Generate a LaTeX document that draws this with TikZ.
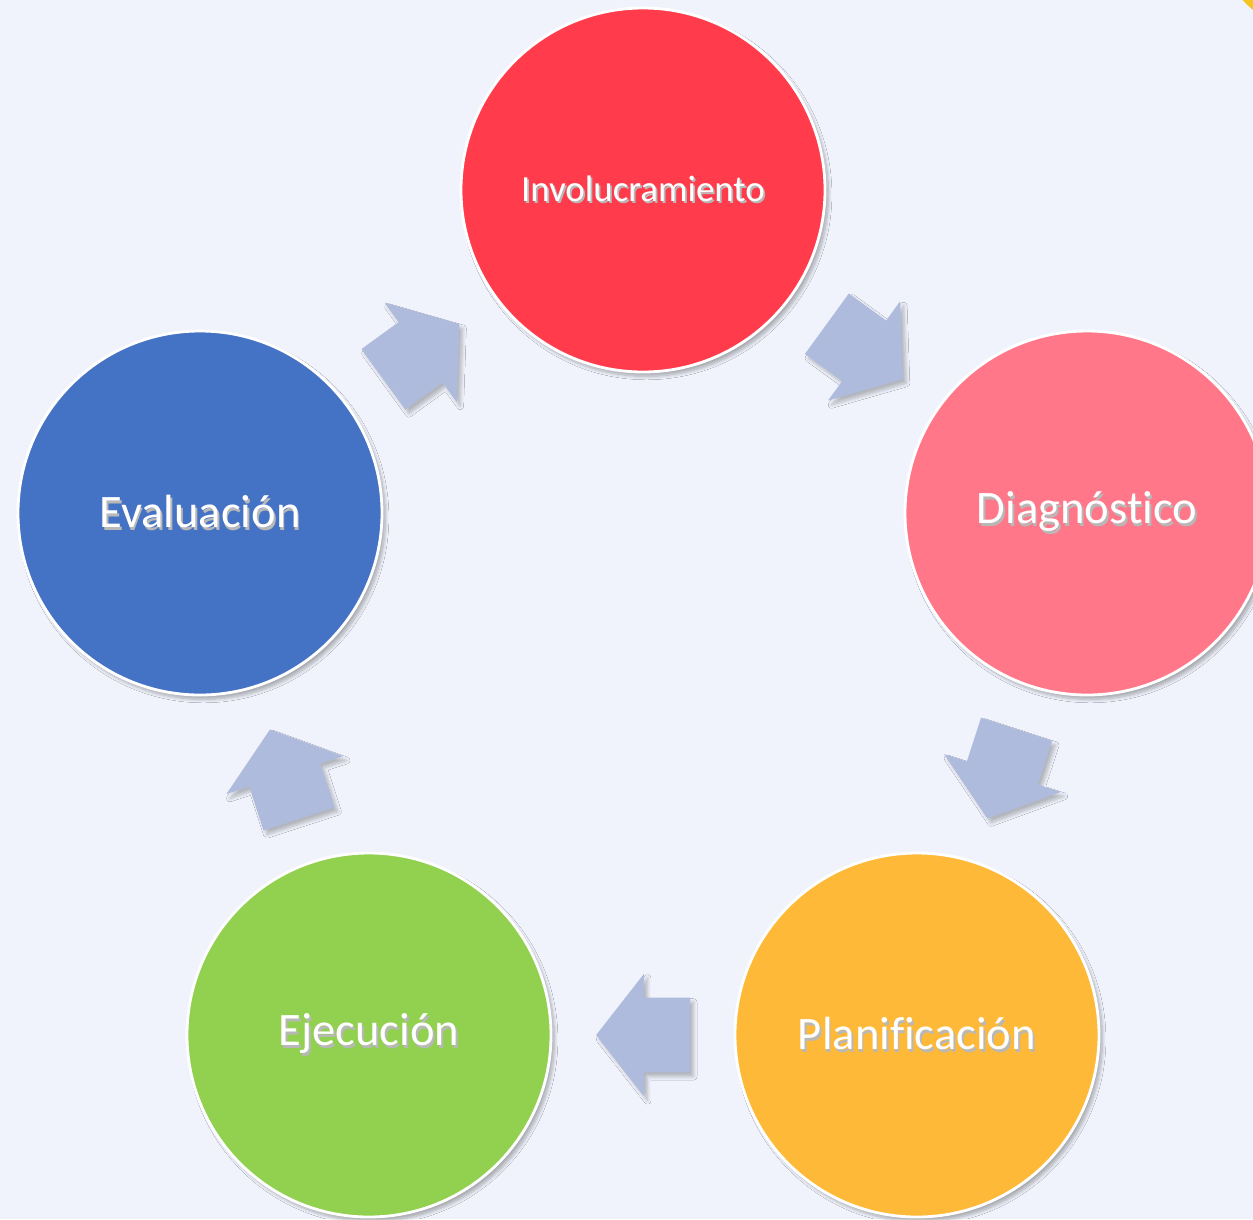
\documentclass[tikz,border=0pt]{standalone}
\usepackage{fontspec}
\setmainfont{Carlito}[Ligatures={NoCommon,NoDiscretionary,NoRare,NoContextual}]
\usetikzlibrary{calc,shapes.arrows,shadows.blur}

\definecolor{bgcol}{HTML}{F0F3FC}
\definecolor{invcol}{HTML}{FF3B4C}
\definecolor{diagcol}{HTML}{FF7789}
\definecolor{plancol}{HTML}{FFB938}
\definecolor{ejeccol}{HTML}{92D050}
\definecolor{evalcol}{HTML}{4472C4}
\definecolor{arrcol}{HTML}{AEBBDD}
\definecolor{goldcol}{HTML}{F6C41E}

\newcommand\shtext[1]{\makebox[0pt][l]{\raisebox{-1.2pt}{\hspace{1pt}\color{black!28}#1}}#1}

\begin{document}
\begin{tikzpicture}[auto,
    phase/.style={circle, draw=white, line width=1.6pt, minimum size=7.28cm,
        inner sep=0pt, text=white, font=\fontsize{26.5}{30}\selectfont,
        blur shadow={shadow xshift=2pt, shadow yshift=-2.5pt, shadow opacity=30, shadow blur steps=8}},
    flow/.style={single arrow, fill=arrcol, draw=none, minimum height=1.88cm,
        inner xsep=0pt, inner ysep=0.74cm, single arrow head extend=0.48cm,
        single arrow tip angle=104, anchor=tail,
        blur shadow={shadow xshift=2pt, shadow yshift=-2.5pt, shadow opacity=25, shadow blur steps=6}}]
        \useasboundingbox (0, 0) rectangle (25.06, -24.38);
        \clip (0, 0) rectangle (25.06, -24.38);
        \fill[bgcol] (0, 0) rectangle (25.06, -24.38);
        \fill[goldcol] (25.9, 0.9) circle (1.38);

        \node[phase, fill=invcol, font=\fontsize{21}{24}\selectfont] (inv) at (12.86, -3.8) {\shtext{Involucramiento}};
        \node[phase, fill=diagcol] (diag) at (21.74, -10.26) {\shtext{Diagnóstico}};
        \node[phase, fill=plancol] (plan) at (18.34, -20.7) {\shtext{Planificación}};
        \node[phase, fill=ejeccol] (ejec) at (7.38, -20.7) {\shtext{Ejecución}};
        \node[phase, fill=evalcol] (eval) at (4.0, -10.26) {\shtext{Evaluación}};

        \node[flow, rotate=-36] (a1) at ($(inv)!0.5!(diag)!0.95cm!(inv)$) {};
        \node[flow, rotate=-108] (a2) at ($(diag)!0.5!(plan)!0.95cm!(diag)$) {};
        \node[flow, rotate=180] (a3) at ($(plan)!0.5!(ejec)!0.95cm!(plan)$) {};
        \node[flow, rotate=108] (a4) at ($(ejec)!0.5!(eval)!0.95cm!(ejec)$) {};
        \node[flow, rotate=36] (a5) at ($(eval)!0.5!(inv)!0.95cm!(eval)$) {};
      \end{tikzpicture}
\end{document}
